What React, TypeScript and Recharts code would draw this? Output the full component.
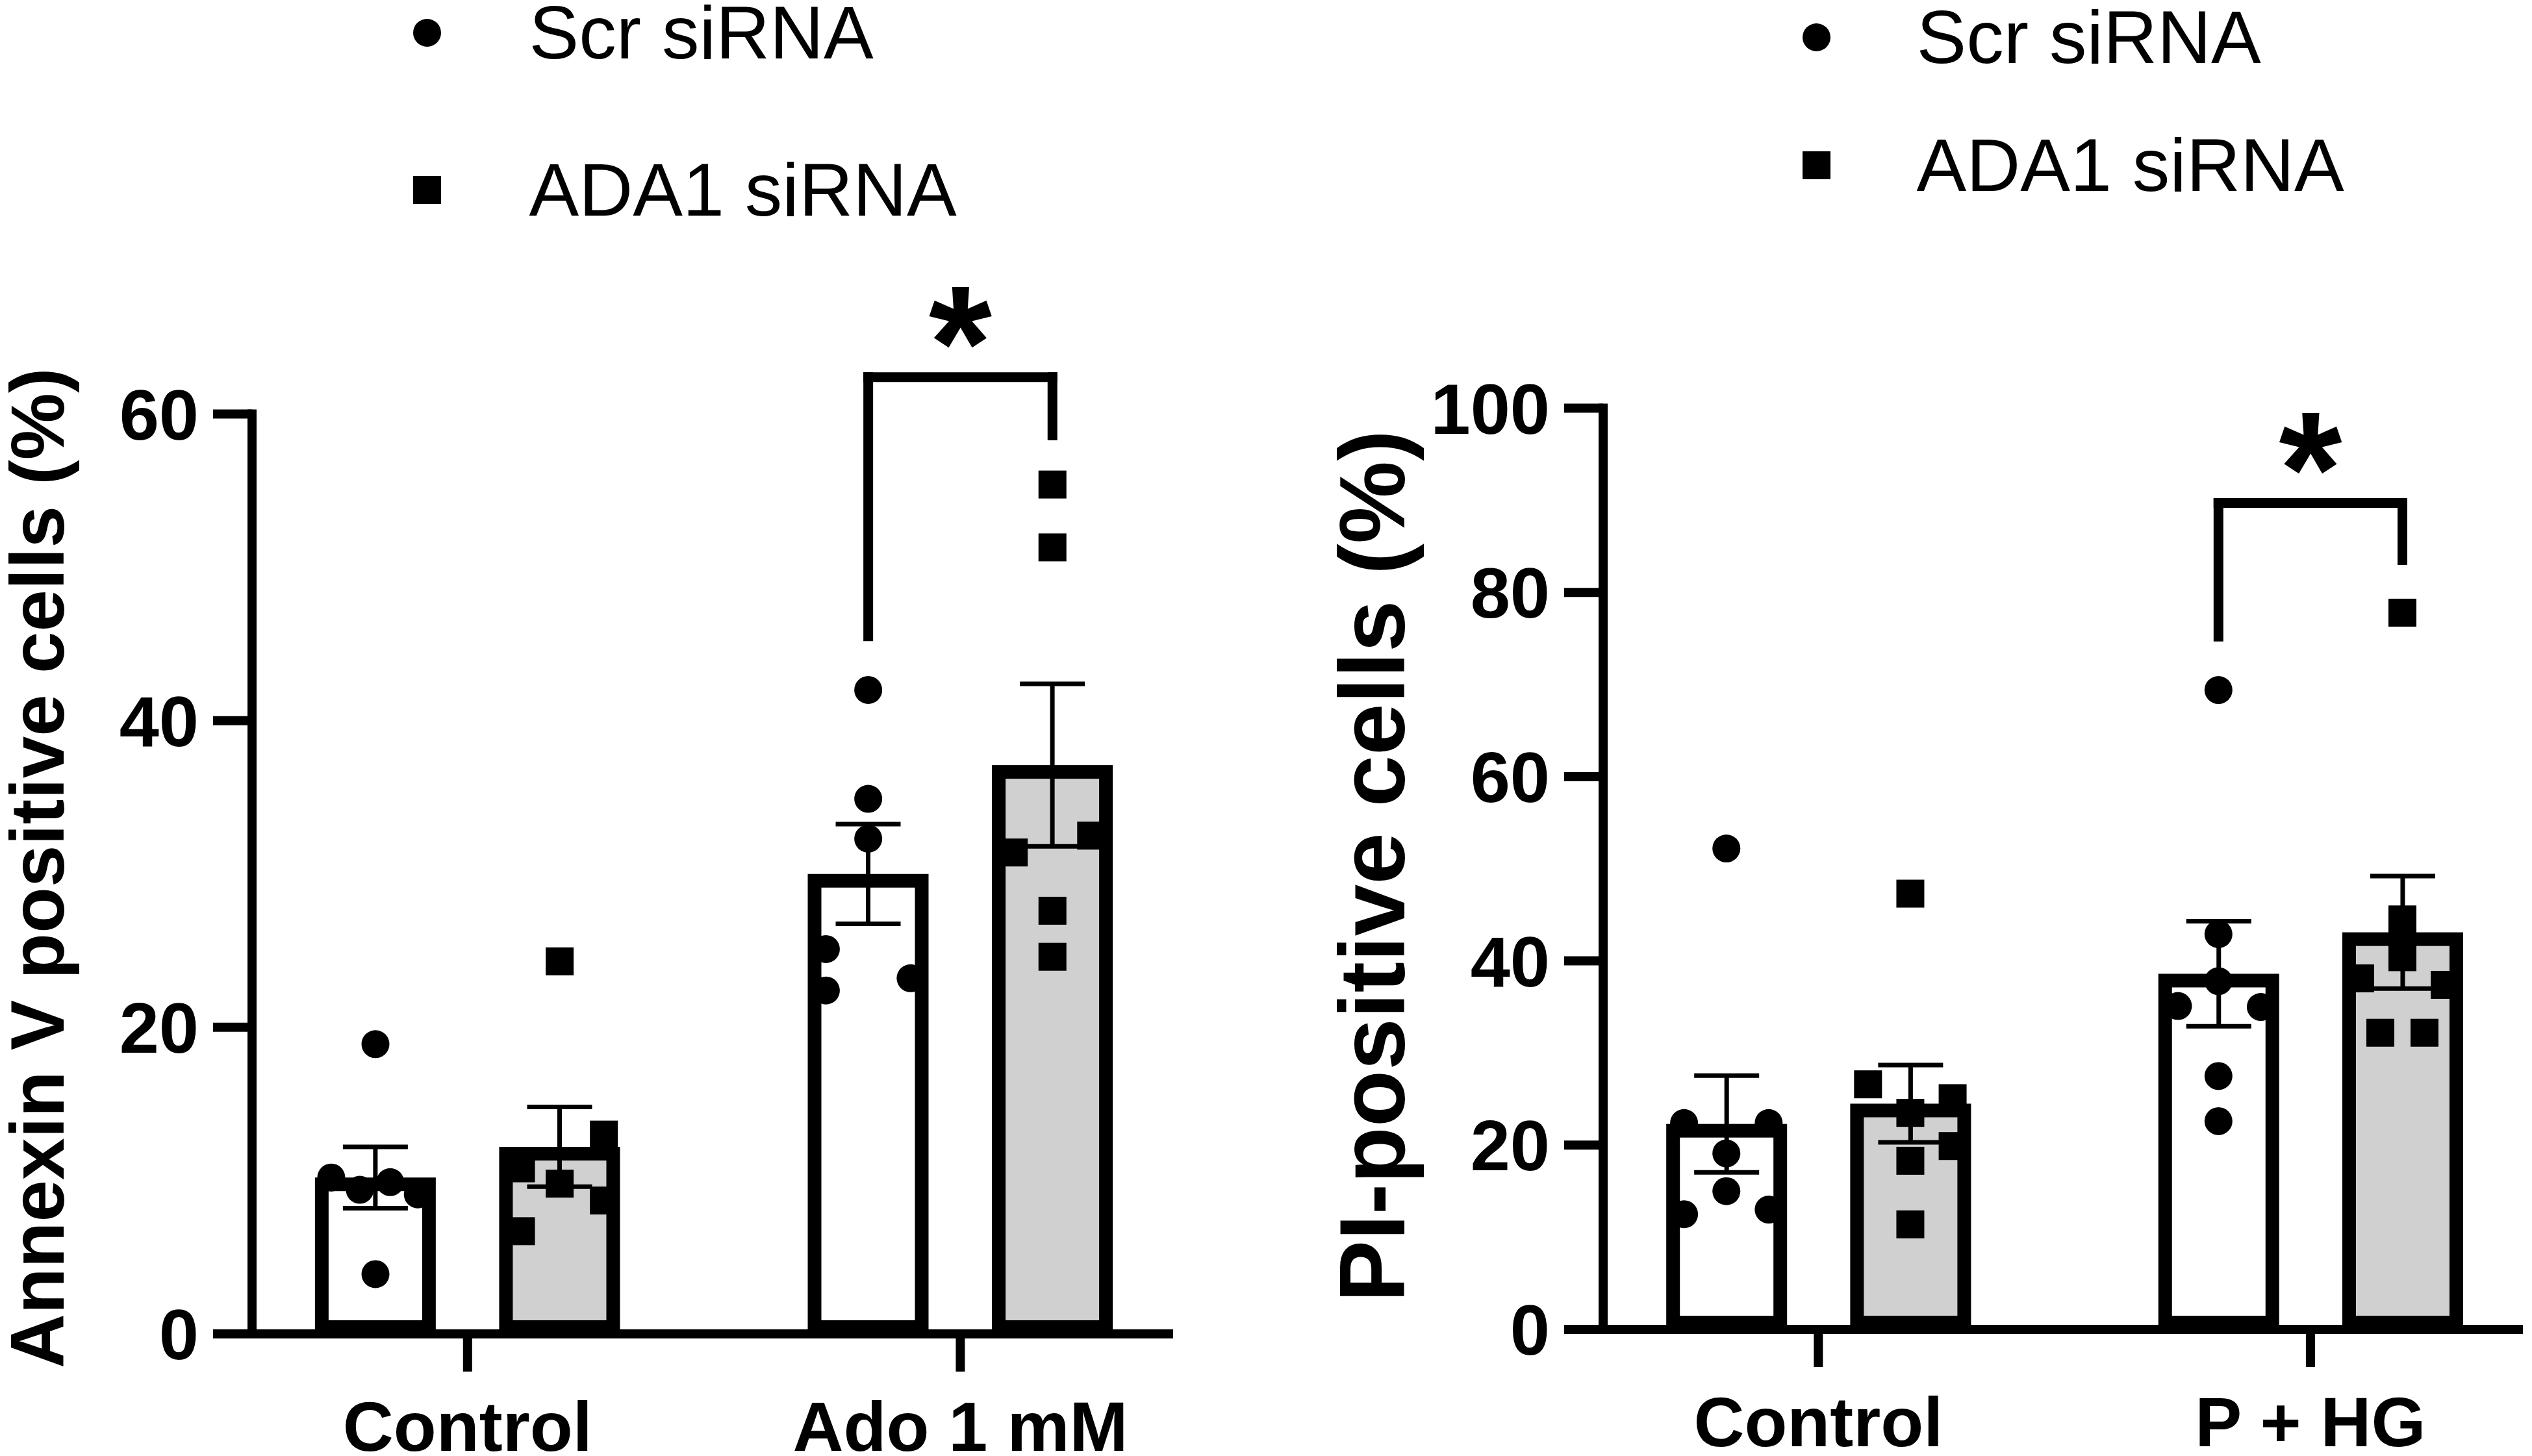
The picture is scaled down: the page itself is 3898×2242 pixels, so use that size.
import React from 'react';
import { ComposedChart, Bar, Cell, ErrorBar, Scatter, XAxis, YAxis, ReferenceLine, Legend } from 'recharts';

const FONT = '"Liberation Sans", Arial, Helvetica, sans-serif';

const seriesNames = ['Scr siRNA', 'ADA1 siRNA'];

// ---- left panel: Annexin V ----
const annexinGroups = ['Control', 'Ado 1 mM'];
const annexinScrMean = [10.2, 30.0];
const annexinScrSem = [2.0, 3.25];
const annexinAdaMean = [12.2, 37.1];
const annexinAdaSem = [2.6, 5.3];
const annexinScrPts = [
  [18.9, 10.2, 9.4, 9.9, 9.1, 3.9],
  [42.0, 34.9, 32.3, 25.1, 23.2, 22.4],
];
const annexinAdaPts = [
  [24.3, 13.0, 10.8, 9.8, 8.7, 6.7],
  [55.4, 51.3, 32.5, 31.4, 27.6, 24.6],
];
const annexinTicks = [0, 20, 40, 60];
// bracket over Ado 1 mM: top, left end, right end
const annexinSig = [62.4, 45.5, 58.6];

// ---- right panel: PI ----
const piGroups = ['Control', 'P + HG'];
const piScrMean = [22.3, 38.6];
const piScrSem = [5.25, 5.7];
const piAdaMean = [24.5, 43.1];
const piAdaSem = [4.2, 6.1];
const piScrPts = [
  [52.2, 22.4, 22.4, 19.1, 15.0, 12.5, 13.0],
  [69.4, 42.9, 37.8, 35.1, 35.0, 27.5, 22.6],
];
const piAdaPts = [
  [47.3, 26.6, 25.1, 23.5, 19.9, 18.3, 11.4],
  [77.8, 44.5, 40.4, 38.1, 37.4, 32.2, 32.2],
];
const piTicks = [0, 20, 40, 60, 80, 100];
const piSig = [89.7, 75.2, 83.5];

// horizontal scatter of the replicates inside each bar (x-axis units)
const annexinScrJit = [[0, -0.24, -0.085, 0.08, 0.23, 0], [0, 0, 0, -0.23, 0.23, -0.23]];
const annexinAdaJit = [[0, 0.24, -0.21, 0, 0.24, -0.21], [0, 0, 0.21, -0.21, 0, 0]];
const piScrJit = [[0, -0.23, 0.23, 0, 0, -0.23, 0.23], [0, 0, 0, -0.22, 0.23, 0, 0]];
const piAdaJit = [[0, -0.23, 0.23, 0, 0.23, 0, 0], [0, 0, 0, -0.23, 0.23, -0.12, 0.12]];

// layout on the numeric x axis
const GROUP_X = [1.17, 3.845];
const BAR_SHIFT = [-0.5, 0.5];
const BAR_W = 186;
const BAR_STROKE = 21;
const MARK = 43;

// bar outline drawn inside the bar's outer edge; width fixed because the
// numeric axis band size comes from the scatter spacing
const InsetBar = (props: any) => {
  const { x, y, width, height, fill } = props;
  if (!height || height <= 0) return null;
  const s = BAR_STROKE;
  const cx = x + width / 2;
  return (
    <rect x={cx - BAR_W / 2 + s / 2} y={y + s / 2} width={BAR_W - s} height={height - s}
      fill={fill} stroke="#000" strokeWidth={s} />
  );
};

const dot = (props: any) => <circle cx={props.cx} cy={props.cy} r={MARK / 2} fill="#000" />;
const square = (props: any) => (
  <rect x={props.cx - MARK / 2} y={props.cy - MARK / 2} width={MARK} height={MARK} fill="#000" />
);

function makeLegend(rowH: number, gap: number) {
  return (props: any) => {
    const items = (props.payload || [])
      .filter((p: any) => p.type !== 'none')
      .sort((a: any, b: any) => seriesNames.indexOf(a.value) - seriesNames.indexOf(b.value));
    return (
      <div>
        {items.map((p: any) => (
          <div key={p.value} style={{ display: 'flex', alignItems: 'center', height: rowH }}>
            <svg width={MARK} height={MARK} style={{ display: 'block' }}>
              {p.type === 'square'
                ? <rect x={0} y={0} width={MARK} height={MARK} fill="#000" />
                : <circle cx={MARK / 2} cy={MARK / 2} r={MARK / 2} fill="#000" />}
            </svg>
            <span style={{ marginLeft: gap, fontSize: 115, fontFamily: FONT, lineHeight: 1, color: '#000', whiteSpace: 'nowrap' }}>
              {p.value}
            </span>
          </div>
        ))}
      </div>
    );
  };
}

function Panel(p: any) {
  const barData = p.groups.flatMap((g: string, gi: number) => [
    { x: GROUP_X[gi] + BAR_SHIFT[0], mean: p.scrMean[gi], sem: p.scrSem[gi], s: 0 },
    { x: GROUP_X[gi] + BAR_SHIFT[1], mean: p.adaMean[gi], sem: p.adaSem[gi], s: 1 },
  ]);
  const scrData = p.groups.flatMap((g: string, gi: number) =>
    p.scrPts[gi].map((v: number, k: number) => ({ x: GROUP_X[gi] + BAR_SHIFT[0] + p.scrJit[gi][k], v })));
  const adaData = p.groups.flatMap((g: string, gi: number) =>
    p.adaPts[gi].map((v: number, k: number) => ({ x: GROUP_X[gi] + BAR_SHIFT[1] + p.adaJit[gi][k], v })));
  const xl = GROUP_X[1] + BAR_SHIFT[0];
  const xr = GROUP_X[1] + BAR_SHIFT[1];
  const [top, leftEnd, rightEnd] = p.sig;
  const line = { stroke: '#000', strokeWidth: 15, strokeLinecap: 'square' as const, ifOverflow: 'visible' as const };
  const tickFont = { fill: '#000', fontSize: 110, fontWeight: 700, fontFamily: FONT };

  return (
    <div style={{ position: 'absolute', left: p.left, top: 0 }}>
      <ComposedChart width={p.width} height={2242} data={barData}
        margin={{ top: p.top, right: p.right, bottom: 0, left: 0 }}>
        <XAxis dataKey="x" type="number" domain={[0, 5]} ticks={GROUP_X} interval={0}
          tickFormatter={(v: number, i: number) => p.groups[i]}
          height={p.xAxisH} tickSize={58} tickMargin={45}
          axisLine={{ stroke: '#000', strokeWidth: 14 }}
          tickLine={{ stroke: '#000', strokeWidth: 14 }}
          tick={{ ...tickFont, fontSize: 108 }} />
        <YAxis type="number" domain={[0, p.ticks[p.ticks.length - 1]]} ticks={p.ticks} interval={0}
          width={p.yAxisW} tickSize={60} tickMargin={22}
          axisLine={{ stroke: '#000', strokeWidth: 14, strokeLinecap: 'square' }}
          tickLine={{ stroke: '#000', strokeWidth: 14 }}
          tick={tickFont}
          label={{ value: p.title, angle: -90, position: 'center', dx: p.titleDx, dy: p.titleDy,
            fontSize: p.titleSize, fontWeight: 700, fontFamily: FONT, fill: '#000' }} />
        <Bar dataKey="mean" barSize={BAR_W} shape={InsetBar} legendType="none" isAnimationActive={false}>
          {barData.map((d: any, i: number) => (
            <Cell key={i} fill={d.s === 0 ? '#ffffff' : '#d0d0d0'} />
          ))}
          <ErrorBar dataKey="sem" width={50} strokeWidth={7} stroke="#000" direction="y" isAnimationActive={false} />
        </Bar>
        <Scatter name={seriesNames[0]} data={scrData} dataKey="v" fill="#000" shape={dot}
          legendType="circle" isAnimationActive={false} />
        <Scatter name={seriesNames[1]} data={adaData} dataKey="v" fill="#000" shape={square}
          legendType="square" isAnimationActive={false} />
        <ReferenceLine segment={[{ x: xl, y: leftEnd }, { x: xl, y: top }]} {...line} />
        <ReferenceLine segment={[{ x: xl, y: top }, { x: xr, y: top }]} {...line}
          label={{ value: '*', position: 'top', offset: p.starOffset, fontSize: 250, fontWeight: 700, fontFamily: FONT, fill: '#000' }} />
        <ReferenceLine segment={[{ x: xr, y: top }, { x: xr, y: rightEnd }]} {...line} />
        <Legend layout="vertical" align="center" verticalAlign="middle"
          content={makeLegend(p.legendRow, p.legendGap)}
          wrapperStyle={{ left: p.legendLeft, top: p.legendTop, width: 'auto', height: 'auto' }} />
      </ComposedChart>
    </div>
  );
}

export default function App() {
  return (
    <div style={{ position: 'absolute', left: 0, top: 0, width: 3898, height: 2242, background: '#fff', overflow: 'hidden' }}>
      <Panel left={0} width={1950} top={637.5} right={144} xAxisH={188} yAxisW={388}
        groups={annexinGroups} ticks={annexinTicks}
        scrMean={annexinScrMean} scrSem={annexinScrSem} adaMean={annexinAdaMean} adaSem={annexinAdaSem}
        scrPts={annexinScrPts} adaPts={annexinAdaPts} scrJit={annexinScrJit} adaJit={annexinAdaJit}
        sig={annexinSig} starOffset={-34}
        title="Annexin V positive cells (%)" titleSize={116} titleDx={-137} titleDy={-9}
        legendLeft={635.5} legendTop={-71} legendRow={242} legendGap={136} />
      <Panel left={1950} width={1948} top={628.5} right={14} xAxisH={195} yAxisW={518}
        groups={piGroups} ticks={piTicks}
        scrMean={piScrMean} scrSem={piScrSem} adaMean={piAdaMean} adaSem={piAdaSem}
        scrPts={piScrPts} adaPts={piAdaPts} scrJit={piScrJit} adaJit={piAdaJit}
        sig={piSig} starOffset={-34}
        title="PI-positive cells (%)" titleSize={143} titleDx={-98} titleDy={-4}
        legendLeft={824.5} legendTop={-41.5} legendRow={197} legendGap={133} />
    </div>
  );
}
